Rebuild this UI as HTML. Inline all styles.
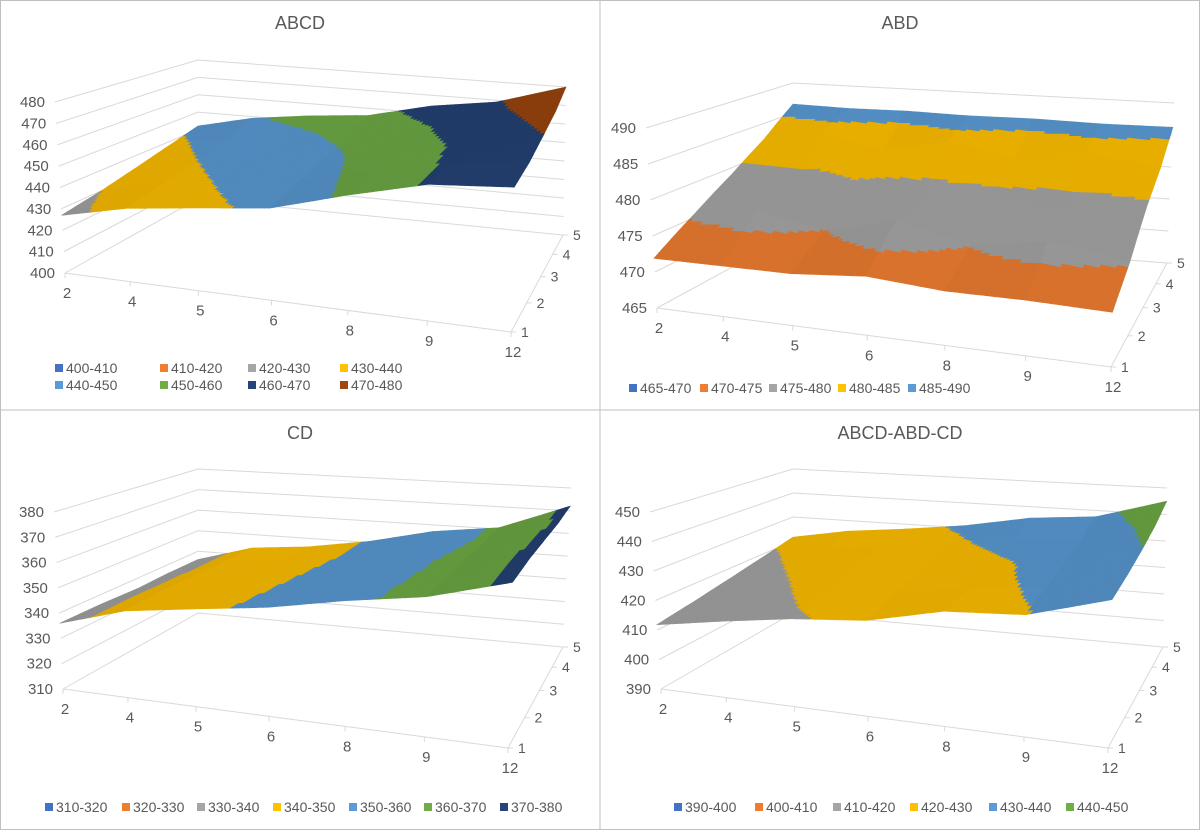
<!DOCTYPE html>
<html><head><meta charset="utf-8">
<style>
html,body{margin:0;padding:0;background:#fff;}
svg{display:block;font-family:"Liberation Sans",Arial,sans-serif;}
</style></head>
<body>
<svg id="chart" width="1200" height="830" viewBox="0 0 1200 830" xmlns="http://www.w3.org/2000/svg">
<rect x="0.5" y="0.5" width="1199" height="829" fill="#fff" stroke="#bfbfbf"/>
<line x1="600" y1="0" x2="600" y2="830" stroke="#bfbfbf"/>
<line x1="0" y1="410" x2="1200" y2="410" stroke="#bfbfbf"/>
</svg>
<script>
const categories = ['2','4','5','6','8','9','12'];
const depthLabels = ['1','2','3','4','5'];
const abcdTicks = [400,410,420,430,440,450,460,470,480];
const abdTicks = [465,470,475,480,485,490];
const cdTicks = [310,320,330,340,350,360,370,380];
const diffTicks = [390,400,410,420,430,440,450];
const abcdValues = [
 [427,434,438,442,452,461,464],
 [430,437,441,445,454,461,466],
 [434,440,444,448,455,462,470],
 [438,444,447,452,458,466,474],
 [442,449,453,456,464,469,480]];
const abdValues = [
 [471.9,472.0,472.1,473.0,472.3,472.4,472.2],
 [475.5,476.8,475.0,477.5,475.2,476.8,475.3],
 [479.0,478.0,480.3,478.2,479.6,478.0,479.5],
 [482.5,484.0,482.0,484.2,482.2,484.0,482.4],
 [486.5,486.3,486.4,486.2,486.3,486.1,486.2]];
const cdValues = [
 [336,344,348,352,358,363,372],
 [336,344.5,347.5,351.5,357.5,362.5,372.5],
 [335.5,344,347,351,357,362,372],
 [336,343.5,346.5,350.5,356.5,361,371.5],
 [336,343.5,346,350.5,357,360.6,372]];
const diffValues = [
 [411.8,415.7,419.3,421.7,427.7,429.6,437.6],
 [414,418,422,424,428,431,438.5],
 [416.5,420.5,424,426,428.5,433,440],
 [419,423,426,428.5,432,435,442],
 [421.6,425.6,428,431,435.5,437.6,445]];

const COLORS=['#4472C4','#ED7D31','#A5A5A5','#FFC000','#5B9BD5','#70AD47','#264478','#9E480E'];
const ufrac=[0,.146,.299,.463,.634,.812,1];
const vfrac=[0,.30,.57,.80,1];
const NS='http://www.w3.org/2000/svg';
const svg=document.getElementById('chart');
function el(tag,attrs,parent){const e=document.createElementNS(NS,tag);for(const k in attrs)e.setAttribute(k,attrs[k]);(parent||svg).appendChild(e);return e;}
function shade(hex,f){const n=parseInt(hex.slice(1),16);let r=(n>>16)&255,g=(n>>8)&255,b=n&255;r=Math.min(255,Math.round(r*f));g=Math.min(255,Math.round(g*f));b=Math.min(255,Math.round(b*f));return 'rgb('+r+','+g+','+b+')';}
function bil(c,a,b,d,u,v){return [ (a[0]*(1-u)+b[0]*u)*(1-v)+(c[0]*(1-u)+d[0]*u)*v, (a[1]*(1-u)+b[1]*u)*(1-v)+(c[1]*(1-u)+d[1]*u)*v ];}

const panels=[
 {name:'abcd',title:'ABCD',ox:0,oy:0,ticks:abcdTicks,vals:abcdValues,
  g:{FLB:[65,273],FLT:[55,102],FRB:[511,332],FRT:[515,151],BLB:[198,199],BLT:[198,60],BRB:[563,235],BRT:[566,87]},
  legend:{rows:2,cols:4,xs:[55,160,248,340],ys:[368,385]}},
 {name:'abd',title:'ABD',ox:600,oy:0,ticks:abdTicks,vals:abdValues,
  g:{FLB:[57,308],FLT:[46,128],FRB:[511,367],FRT:[516,177],BLB:[193,234],BLT:[193,83],BRB:[567,263],BRT:[574,103]},
  legend:{rows:1,cols:5,xs:[29,100,169,238,308],ys:[388]}},
 {name:'cd',title:'CD',ox:0,oy:410,ticks:cdTicks,vals:cdValues,
  g:{FLB:[63,279],FLT:[54,102],FRB:[508,338],FRT:[513,151],BLB:[198,203],BLT:[198,59],BRB:[563,237],BRT:[571,78]},
  legend:{rows:1,cols:7,xs:[45,122,197,273,349,424,500],ys:[397]}},
 {name:'diff',title:'ABCD-ABD-CD',ox:600,oy:410,ticks:diffTicks,vals:diffValues,
  g:{FLB:[61,279],FLT:[50,102],FRB:[508,338],FRT:[513,151],BLB:[193,203],BLT:[193,59],BRB:[563,237],BRT:[567,78]},
  legend:{rows:1,cols:6,xs:[74,155,233,310,389,466],ys:[397]}}
];

panels.forEach(p=>{
 const G=el('g',{transform:'translate('+p.ox+','+p.oy+')'});
 
 
 const g=p.g, mn=p.ticks[0], step=p.ticks[1]-p.ticks[0], mx=p.ticks[p.ticks.length-1];
 const W=val=>(val-mn)/(mx-mn);
 function P(u,v,w){const b=bil(g.BLB,g.FLB,g.FRB,g.BRB,u,v);const t=bil(g.BLT,g.FLT,g.FRT,g.BRT,u,v);return [b[0]+w*(t[0]-b[0]),b[1]+w*(t[1]-b[1])];}
 const t=el('text',{x:300,y:29,'text-anchor':'middle','font-size':18,fill:'#595959'},G);
 t.textContent=p.title;
 
 
 p.ticks.forEach(tv=>{
  const w=W(tv);const a=P(0,0,w),b=P(0,1,w),c=P(1,1,w);
  const pl=el('polyline',{points:a.join(',')+' '+b.join(',')+' '+c.join(','),fill:'none',stroke:'#d9d9d9','stroke-width':1},G);
  
  
  const lb=el('text',{x:a[0]-10,y:a[1]+5,'text-anchor':'end','font-size':15,fill:'#595959'},G);
  lb.textContent=tv;
  
  
 });
 const f0=P(0,0,0),f1=P(1,0,0),f2=P(1,1,0);
 const ax=el('polyline',{points:f0.join(',')+' '+f1.join(',')+' '+f2.join(','),fill:'none',stroke:'#d9d9d9','stroke-width':1},G);
 
 
 categories.forEach((c,i)=>{
  const q=P(ufrac[i],0,0);
  el('line',{x1:q[0],y1:q[1],x2:q[0],y2:q[1]+5,stroke:'#d9d9d9'},G);
  const lb=el('text',{x:q[0]+2,y:q[1]+25,'text-anchor':'middle','font-size':15,fill:'#595959'},G);
  lb.textContent=c;
  
  
 });
 depthLabels.forEach((d,j)=>{
  const q=P(1,vfrac[j],0);
  el('line',{x1:q[0],y1:q[1],x2:q[0]+5,y2:q[1],stroke:'#d9d9d9'},G);
  const lb=el('text',{x:q[0]+10,y:q[1]+5,'font-size':14,fill:'#595959'},G);
  lb.textContent=d;
  
  
 });
 const S=el('g',{},G);
 
 
 const V=p.vals, n=16, nb=p.ticks.length-1;
 function val(i,j,a,b){return (V[j][i]*(1-a)+V[j][i+1]*a)*(1-b)+(V[j+1][i]*(1-a)+V[j+1][i+1]*a)*b;}
 for(let j=3;j>=0;j--){
  for(let sb=n-1;sb>=0;sb--){
   for(let i=0;i<6;i++){
    for(let sa=0;sa<n;sa++){
     const a0=sa/n,a1=(sa+1)/n,b0=sb/n,b1=(sb+1)/n;
     const corners=[[a0,b0],[a1,b0],[a1,b1],[a0,b1]];
     let sum=0;const pts=corners.map(([a,b])=>{const vv=val(i,j,a,b);sum+=vv;
       const u=ufrac[i]+a*(ufrac[i+1]-ufrac[i]), v=vfrac[j]+b*(vfrac[j+1]-vfrac[j]);
       return P(u,v,W(vv)).map(x=>x.toFixed(1)).join(',');});
     const avg=sum/4;
     let k=Math.floor((avg-mn)/step);k=Math.max(0,Math.min(nb-1,k));
     const dz=(V[j][i+1]+V[j+1][i+1]-V[j][i]-V[j+1][i])/2/step;
     const f=0.9+Math.max(-0.06,Math.min(0.06,-dz*0.04));
     const col=shade(COLORS[k],f);
     const pg=el('polygon',{points:pts.join(' '),fill:col,stroke:col,'stroke-width':0.6},S);
     
     
    }
   }
  }
 }
 const L=el('g',{},G);
 
 
 for(let k=0;k<nb;k++){
  const r=Math.floor(k/p.legend.cols), c=k%p.legend.cols;
  const x=p.legend.xs[c], y=p.legend.ys[r];
  const e=el('g',{},L);
  
  
  el('rect',{x:x,y:y-4,width:8,height:8,fill:COLORS[k]},e);
  const tx=el('text',{x:x+11,y:y+5,'font-size':14,fill:'#595959'},e);
  tx.textContent=p.ticks[k]+'-'+p.ticks[k+1];
 }
});
</script>
</body></html>
